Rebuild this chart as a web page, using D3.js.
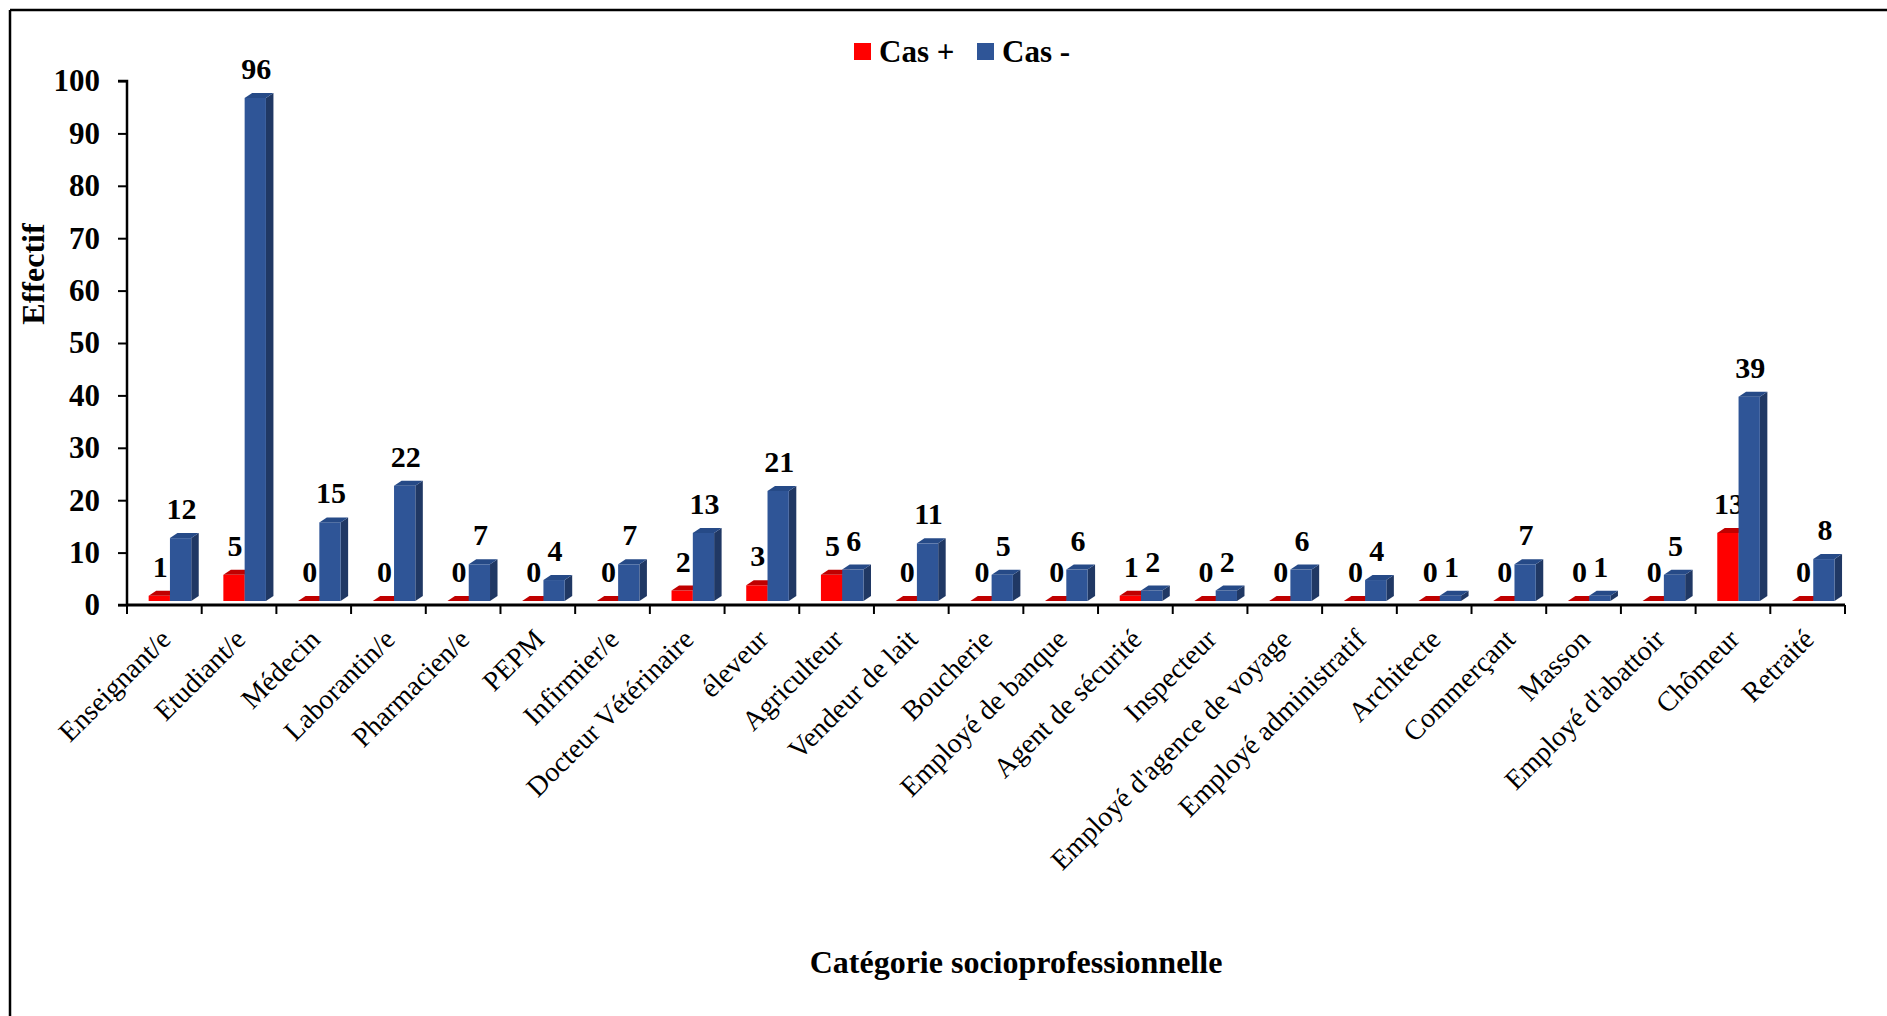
<!DOCTYPE html>
<html>
<head>
<meta charset="utf-8">
<script src="https://cdn.jsdelivr.net/npm/d3@7"></script>
<style>
  body { margin: 0; background: #fff; }
  svg { display: block; font-family: "Liberation Serif", "DejaVu Serif", serif; }
</style>
</head>
<body>
<svg id="chart"></svg>
<script>
// categories and counts
const categories = ["Enseignant/e", "Etudiant/e", "Médecin", "Laborantin/e", "Pharmacien/e", "PEPM",
    "Infirmier/e", "Docteur Vétérinaire", "éleveur", "Agriculteur", "Vendeur de lait", "Boucherie",
    "Employé de banque", "Agent de sécurité", "Inspecteur", "Employé d'agence de voyage",
    "Employé administratif", "Architecte", "Commerçant", "Masson", "Employé d'abattoir", "Chômeur", "Retraité"];
const casPositif = [1, 5, 0, 0, 0, 0, 0, 2, 3, 5, 0, 0, 0, 1, 0, 0, 0, 0, 0, 0, 0, 13, 0];
const casNegatif = [12, 96, 15, 22, 7, 4, 7, 13, 21, 6, 11, 5, 6, 2, 2, 6, 4, 1, 7, 1, 5, 39, 8];
const yTicks = [0, 10, 20, 30, 40, 50, 60, 70, 80, 90, 100];
const seriesNames = ["Cas +", "Cas -"];

const width = 1887, height = 1016;
const plotLeft = 127, plotRight = 1845, plotTop = 81, plotBase = 605;
const lift = 4, depthX = 7.5, depthY = 5;

const svg = d3.select("#chart").attr("width", width).attr("height", height);

// frame (only top and left edges are visible)
svg.append("line").attr("x1", 10).attr("x2", width).attr("y1", 10).attr("y2", 10)
    .attr("stroke", "#000").attr("stroke-width", 2.5);
svg.append("line").attr("x1", 10).attr("x2", 10).attr("y1", 10).attr("y2", height)
    .attr("stroke", "#000").attr("stroke-width", 2.5);

const x = d3.scaleBand().domain(categories).range([plotLeft, plotRight]).padding(0);
const y = d3.scaleLinear().domain([0, 100]).range([plotBase, plotTop]);
const bw = x.bandwidth();
const barW = bw * 0.285;
const offset = bw * 0.29;

const series = [
    { name: seriesNames[0], values: casPositif, front: "#ff0000", topc: "#c00000", side: "#a00000", idx: 0 },
    { name: seriesNames[1], values: casNegatif, front: "#2f5597", topc: "#264a87", side: "#203864", idx: 1 }
];

const bars = svg.append("g");
series.forEach(s => {
    const g = bars.append("g");
    const data = categories.map((c, i) => ({ c: c, v: s.values[i] }));
    const x0 = d => x(d.c) + offset + s.idx * barW;
    const yb = y(0) - lift;
    const yt = d => y(d.v) - lift;

    // side face
    g.selectAll(".side").data(data).enter().append("path")
        .attr("fill", s.side)
        .attr("d", d => {
            const xr = x0(d) + barW;
            return `M${xr},${yb} L${xr + depthX},${yb - depthY} L${xr + depthX},${yt(d) - depthY} L${xr},${yt(d)} Z`;
        });
    // front face
    g.selectAll(".front").data(data).enter().append("rect")
        .attr("x", x0).attr("y", yt)
        .attr("width", barW).attr("height", d => yb - yt(d))
        .attr("fill", s.front);
    // top face
    g.selectAll(".top").data(data).enter().append("path")
        .attr("fill", s.topc)
        .attr("d", d => {
            const xl = x0(d), yy = yt(d);
            return `M${xl},${yy} L${xl + depthX},${yy - depthY} L${xl + barW + depthX},${yy - depthY} L${xl + barW},${yy} Z`;
        });
    // value labels
    g.selectAll(".lbl").data(data).enter().append("text")
        .attr("x", d => x0(d) + barW / 2 + 1)
        .attr("y", d => y(d.v) - 23)
        .attr("text-anchor", "middle")
        .attr("font-size", 30).attr("font-weight", "bold")
        .text(d => d.v);
});

// y axis
const yAxis = svg.append("g").attr("transform", `translate(${plotLeft},0)`)
    .call(d3.axisLeft(y).tickValues(yTicks).tickSize(9).tickPadding(18));
yAxis.select(".domain").attr("stroke-width", 2.5).attr("d", `M-9,${plotTop}H0V${plotBase}H-9`);
yAxis.selectAll(".tick line").attr("stroke-width", 2);
yAxis.selectAll("text").attr("font-size", 31).attr("font-weight", "bold")
    .attr("font-family", "Liberation Serif, DejaVu Serif, serif").attr("fill", "#000");

// x axis with ticks on category boundaries
const xAxis = svg.append("g").attr("transform", `translate(0,${plotBase})`);
xAxis.append("line").attr("x1", plotLeft).attr("x2", plotRight).attr("stroke", "#000").attr("stroke-width", 3);
xAxis.selectAll(".tk").data(categories).enter().append("line")
    .attr("x1", d => x(d) + bw).attr("x2", d => x(d) + bw)
    .attr("y1", 0).attr("y2", 9).attr("stroke", "#000").attr("stroke-width", 2);
xAxis.append("line").attr("x1", plotLeft).attr("x2", plotLeft).attr("y1", 0).attr("y2", 9)
    .attr("stroke", "#000").attr("stroke-width", 2);
xAxis.selectAll(".cat").data(categories).enter().append("text")
    .attr("transform", d => `translate(${x(d) + bw / 2 + 8},36) rotate(-45)`)
    .attr("text-anchor", "end")
    .attr("font-size", 28)
    .text(d => d);

// axis titles
svg.append("text").attr("transform", "translate(44,274) rotate(-90)")
    .attr("text-anchor", "middle").attr("font-size", 32).attr("font-weight", "bold").text("Effectif");
svg.append("text").attr("x", 1016).attr("y", 973)
    .attr("text-anchor", "middle").attr("font-size", 32).attr("font-weight", "bold")
    .text("Catégorie socioprofessionnelle");

// legend
const legend = svg.append("g");
const legX = [854, 977];
series.forEach((s, i) => {
    legend.append("rect").attr("x", legX[i]).attr("y", 43).attr("width", 17).attr("height", 17).attr("fill", s.front);
    legend.append("text").attr("x", legX[i] + 25).attr("y", 62)
        .attr("font-size", 31).attr("font-weight", "bold").text(s.name);
});
</script>
</body>
</html>
